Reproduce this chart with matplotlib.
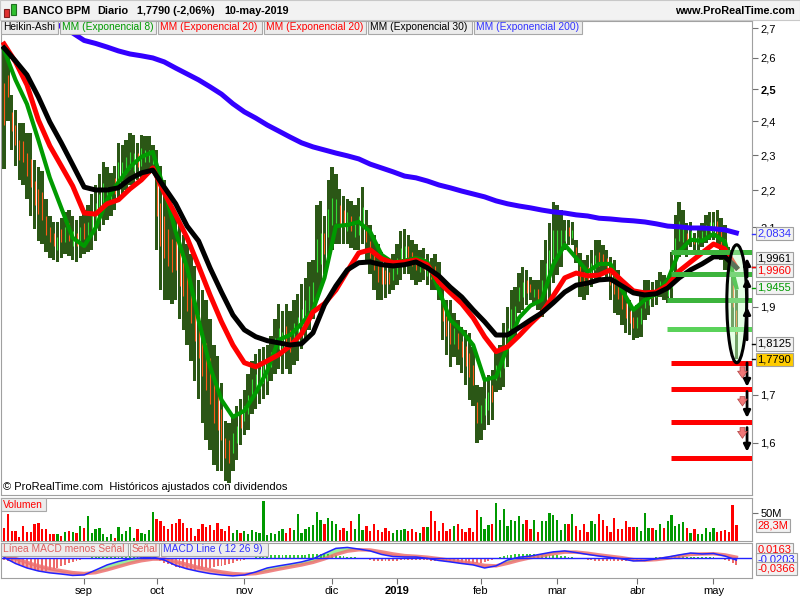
import numpy as np
import matplotlib.pyplot as plt
import matplotlib.transforms as mtrans
from matplotlib.patches import Ellipse, Rectangle
from matplotlib.ticker import NullLocator

plt.rcParams['font.family'] = ['Liberation Sans', 'DejaVu Sans']

# Heikin-Ashi candles, one per trading day (Aug 2018 - 10 May 2019)
ha_high = [
    2.64, 2.61, 2.48, 2.435, 2.395, 2.395, 2.365, 2.365, 2.285, 2.265,
    2.255, 2.175, 2.13, 2.115, 2.115, 2.125, 2.14, 2.145, 2.13, 2.12,
    2.13, 2.145, 2.16, 2.19, 2.215, 2.245, 2.28, 2.265, 2.25, 2.27,
    2.335, 2.33, 2.345, 2.365, 2.36, 2.335, 2.36, 2.355, 2.355, 2.33,
    2.315, 2.27, 2.23, 2.175, 2.145, 2.13, 2.105, 2.08, 2.055, 2.03,
    2.00, 1.965, 1.94, 1.915, 1.87, 1.81, 1.785, 1.725, 1.645, 1.64,
    1.655, 1.675, 1.69, 1.71, 1.745, 1.775, 1.79, 1.80, 1.805, 1.81,
    1.83, 1.87, 1.905, 1.89, 1.905, 1.89, 1.915, 1.93, 1.955, 1.97,
    2.01, 2.015, 2.16, 2.17, 2.13, 2.23, 2.265, 2.245, 2.205, 2.185,
    2.175, 2.17, 2.16, 2.18, 2.21, 2.145, 2.105, 2.08, 2.055, 2.035,
    2.02, 2.01, 2.03, 2.055, 2.09, 2.095, 2.08, 2.067, 2.055, 2.04,
    2.045, 2.03, 2.02, 2.03, 2.01, 1.953, 1.915, 1.915, 1.885, 1.868,
    1.852, 1.845, 1.838, 1.806, 1.722, 1.717, 1.732, 1.743, 1.754, 1.80,
    1.81, 1.861, 1.90, 1.94, 1.948, 1.983, 1.998, 1.99, 1.972, 1.965,
    1.965, 2.015, 2.067, 2.111, 2.168, 2.16, 2.146, 2.119, 2.119, 2.114,
    2.067, 2.033, 2.015, 2.028, 2.041, 2.067, 2.067, 2.054, 2.041, 2.023,
    2.015, 1.99, 1.965, 1.94, 1.916, 1.899, 1.904, 1.935, 1.965, 1.965,
    1.96, 1.965, 1.985, 1.978, 1.97, 2.036, 2.133, 2.168, 2.146, 2.111,
    2.114, 2.085, 2.093, 2.111, 2.133, 2.141, 2.141, 2.146, 2.125, 2.106,
    2.049, 2.003, 1.94,
]
ha_low = [
    2.26, 2.40, 2.315, 2.27, 2.23, 2.215, 2.175, 2.13, 2.095, 2.065,
    2.055, 2.035, 2.02, 2.015, 2.01, 2.02, 2.03, 2.025, 2.015, 2.01,
    2.02, 2.03, 2.035, 2.04, 2.065, 2.09, 2.105, 2.12, 2.13, 2.145,
    2.175, 2.19, 2.20, 2.215, 2.215, 2.23, 2.235, 2.245, 2.245, 2.25,
    2.04, 1.94, 1.915, 1.915, 1.905, 1.915, 1.87, 1.845, 1.81, 1.775,
    1.73, 1.69, 1.64, 1.605, 1.585, 1.555, 1.545, 1.545, 1.525, 1.52,
    1.545, 1.565, 1.595, 1.615, 1.625, 1.66, 1.67, 1.68, 1.69, 1.70,
    1.73, 1.745, 1.755, 1.745, 1.755, 1.745, 1.765, 1.775, 1.80, 1.82,
    1.845, 1.87, 1.915, 1.94, 1.98, 2.015, 2.04, 2.055, 2.055, 2.055,
    2.055, 2.045, 2.04, 2.04, 2.055, 2.015, 1.98, 1.94, 1.915, 1.915,
    1.92, 1.93, 1.94, 1.953, 1.965, 1.98, 1.98, 1.965, 1.953, 1.96,
    1.965, 1.953, 1.94, 1.94, 1.915, 1.822, 1.788, 1.761, 1.783, 1.765,
    1.748, 1.722, 1.689, 1.675, 1.60, 1.606, 1.627, 1.637, 1.647, 1.705,
    1.711, 1.717, 1.76, 1.81, 1.822, 1.885, 1.892, 1.904, 1.916, 1.904,
    1.892, 1.875, 1.904, 1.916, 1.958, 1.978, 1.998, 2.041, 2.054, 2.054,
    2.008, 1.923, 1.916, 1.928, 1.947, 1.958, 1.965, 1.978, 1.973, 1.916,
    1.885, 1.88, 1.856, 1.838, 1.833, 1.822, 1.826, 1.829, 1.868, 1.88,
    1.899, 1.904, 1.923, 1.916, 1.909, 1.909, 1.965, 2.023, 2.028, 2.023,
    2.049, 2.041, 2.041, 2.049, 2.059, 2.067, 2.067, 2.049, 2.015, 1.99,
    1.983, 1.845, 1.779,
]
ha_open = [
    2.52, 2.545, 2.43, 2.39, 2.345, 2.34, 2.305, 2.29, 2.225, 2.205,
    2.195, 2.13, 2.10, 2.085, 2.04, 2.095, 2.06, 2.11, 2.05, 2.085,
    2.055, 2.11, 2.07, 2.08, 2.11, 2.13, 2.155, 2.165, 2.17, 2.235,
    2.22, 2.23, 2.245, 2.26, 2.255, 2.305, 2.27, 2.28, 2.28, 2.275,
    2.23, 2.165, 2.13, 2.095, 2.07, 2.065, 2.035, 2.01, 1.98, 1.95,
    1.915, 1.88, 1.845, 1.815, 1.78, 1.73, 1.71, 1.67, 1.61, 1.605,
    1.58, 1.60, 1.66, 1.645, 1.66, 1.695, 1.705, 1.715, 1.725, 1.73,
    1.76, 1.78, 1.80, 1.79, 1.855, 1.845, 1.81, 1.82, 1.845, 1.865,
    1.89, 1.91, 1.985, 2.005, 2.085, 2.075, 2.105, 2.11, 2.16, 2.145,
    2.09, 2.13, 2.075, 2.08, 2.10, 2.105, 2.065, 2.035, 2.01, 2.00,
    1.99, 1.985, 1.965, 1.98, 2.00, 2.01, 2.05, 2.035, 2.02, 1.985,
    2.02, 1.975, 1.995, 2.00, 1.98, 1.91, 1.877, 1.868, 1.813, 1.838,
    1.82, 1.808, 1.792, 1.765, 1.685, 1.64, 1.657, 1.668, 1.72, 1.732,
    1.738, 1.758, 1.80, 1.85, 1.859, 1.914, 1.923, 1.965, 1.955, 1.923,
    1.943, 1.916, 1.95, 1.972, 2.018, 2.03, 2.041, 2.064, 2.10, 2.072,
    2.049, 2.00, 1.985, 1.998, 1.975, 1.99, 2.036, 2.03, 2.02, 1.99,
    1.975, 1.955, 1.93, 1.909, 1.89, 1.875, 1.85, 1.859, 1.897, 1.904,
    1.94, 1.923, 1.94, 1.958, 1.926, 1.945, 2.015, 2.064, 2.062, 2.085,
    2.067, 2.072, 2.057, 2.067, 2.08, 2.088, 2.088, 2.116, 2.09, 2.07,
    2.028, 1.953, 1.892,
]
ha_close = [
    2.39, 2.475, 2.37, 2.33, 2.285, 2.28, 2.24, 2.21, 2.16, 2.135,
    2.12, 2.08, 2.06, 2.05, 2.075, 2.06, 2.10, 2.065, 2.09, 2.05,
    2.10, 2.07, 2.115, 2.135, 2.165, 2.19, 2.22, 2.21, 2.21, 2.19,
    2.28, 2.28, 2.295, 2.31, 2.305, 2.265, 2.32, 2.315, 2.315, 2.30,
    2.13, 2.05, 2.02, 2.00, 1.985, 1.99, 1.95, 1.925, 1.89, 1.86,
    1.82, 1.78, 1.74, 1.71, 1.68, 1.64, 1.625, 1.605, 1.57, 1.56,
    1.62, 1.635, 1.63, 1.675, 1.70, 1.735, 1.745, 1.755, 1.765, 1.77,
    1.795, 1.825, 1.85, 1.84, 1.805, 1.795, 1.86, 1.875, 1.895, 1.915,
    1.95, 1.96, 2.07, 2.085, 2.03, 2.15, 2.18, 2.175, 2.105, 2.10,
    2.14, 2.09, 2.115, 2.13, 2.155, 2.06, 2.02, 1.99, 1.96, 1.955,
    1.955, 1.955, 1.995, 2.02, 2.045, 2.05, 2.015, 2.00, 1.99, 2.015,
    1.99, 2.00, 1.967, 1.97, 1.947, 1.865, 1.831, 1.813, 1.85, 1.80,
    1.783, 1.763, 1.738, 1.72, 1.64, 1.678, 1.693, 1.705, 1.685, 1.765,
    1.774, 1.81, 1.85, 1.895, 1.902, 1.947, 1.96, 1.933, 1.935, 1.943,
    1.916, 1.965, 2.008, 2.041, 2.093, 2.093, 2.093, 2.093, 2.077, 2.093,
    2.028, 1.96, 1.95, 1.963, 2.008, 2.028, 2.00, 2.003, 1.995, 1.953,
    1.93, 1.918, 1.894, 1.873, 1.861, 1.85, 1.875, 1.897, 1.93, 1.935,
    1.92, 1.943, 1.963, 1.938, 1.947, 1.99, 2.072, 2.117, 2.103, 2.054,
    2.09, 2.057, 2.075, 2.09, 2.106, 2.114, 2.114, 2.083, 2.054, 2.03,
    2.005, 1.899, 1.836,
]

# Exponential moving averages, read every third session
ema_bars = list(range(0, 193, 3))
ema8 = [
    2.626, 2.529, 2.453, 2.344, 2.235, 2.152, 2.072, 2.051, 2.098, 2.174,
    2.223, 2.266, 2.295, 2.309, 2.201, 2.088, 1.995, 1.868, 1.761, 1.689,
    1.653, 1.666, 1.704, 1.752, 1.822, 1.833, 1.859, 1.892, 1.970, 2.103,
    2.106, 2.114, 2.088, 2.028, 2.008, 2.013, 2.020, 2.010, 1.940, 1.868,
    1.843, 1.810, 1.732, 1.739, 1.806, 1.873, 1.902, 1.916, 2.003, 2.054,
    2.020, 1.985, 2.005, 2.005, 1.940, 1.892, 1.916, 1.931, 1.965, 2.036,
    2.067, 2.064, 2.082, 2.062, 1.946,
]
ema20 = [
    2.646, 2.587, 2.513, 2.404, 2.327, 2.269, 2.212, 2.138, 2.135, 2.163,
    2.174, 2.204, 2.229, 2.263, 2.193, 2.133, 2.072, 2.000, 1.928, 1.864,
    1.810, 1.770, 1.761, 1.774, 1.788, 1.808, 1.836, 1.887, 1.907, 1.940,
    1.987, 2.033, 2.041, 2.018, 2.008, 2.010, 2.015, 2.003, 1.960, 1.933,
    1.907, 1.873, 1.829, 1.795, 1.806, 1.831, 1.859, 1.885, 1.926, 1.970,
    1.982, 1.975, 1.977, 1.990, 1.963, 1.938, 1.933, 1.935, 1.952, 1.987,
    2.010, 2.033, 2.056, 2.043, 1.996,
]
ema30 = [
    2.633, 2.590, 2.545, 2.475, 2.398, 2.336, 2.272, 2.209, 2.201, 2.201,
    2.207, 2.232, 2.249, 2.257, 2.209, 2.163, 2.103, 2.064, 1.995, 1.935,
    1.880, 1.845, 1.829, 1.820, 1.815, 1.810, 1.813, 1.838, 1.904, 1.950,
    1.990, 2.008, 2.010, 2.003, 2.000, 2.003, 2.010, 1.995, 1.975, 1.947,
    1.923, 1.892, 1.864, 1.833, 1.833, 1.850, 1.868, 1.885, 1.909, 1.935,
    1.952, 1.957, 1.965, 1.967, 1.950, 1.933, 1.928, 1.931, 1.945, 1.970,
    1.990, 2.005, 2.023, 2.023, 1.996,
]
ema200 = [
    2.80, 2.78, 2.76, 2.74, 2.72, 2.705, 2.683, 2.658, 2.648, 2.636,
    2.623, 2.613, 2.607, 2.600, 2.587, 2.567, 2.548, 2.529, 2.507, 2.484,
    2.454, 2.429, 2.410, 2.389, 2.371, 2.353, 2.336, 2.324, 2.315, 2.306,
    2.298, 2.289, 2.274, 2.263, 2.252, 2.240, 2.235, 2.226, 2.215, 2.207,
    2.198, 2.190, 2.182, 2.171, 2.163, 2.157, 2.152, 2.146, 2.141, 2.138,
    2.133, 2.130, 2.124, 2.122, 2.119, 2.117, 2.114, 2.109, 2.103, 2.101,
    2.098, 2.098, 2.096, 2.093, 2.085,
]

# volume in millions
volume = [
    24, 48, 18, 18, 8, 27, 16, 16, 30, 33,
    22, 21, 12, 12, 12, 9, 16, 18, 16, 15,
    27, 24, 45, 15, 22, 24, 12, 8, 12, 5,
    25, 12, 18, 25, 6, 22, 15, 12, 20, 52,
    39, 36, 27, 21, 30, 33, 40, 33, 24, 24,
    9, 21, 30, 25, 28, 20, 32, 22, 18, 26,
    15, 20, 14, 18, 12, 20, 16, 14, 72, 10,
    14, 12, 18, 22, 14, 24, 20, 48, 15, 22,
    25, 28, 52, 38, 30, 42, 35, 30, 20, 24,
    18, 36, 22, 48, 20, 26, 18, 30, 20, 16,
    24, 18, 14, 20, 20, 21, 18, 21, 17, 15,
    25, 25, 54, 35, 18, 33, 18, 21, 27, 31,
    21, 17, 24, 16, 55, 43, 21, 29, 30, 68,
    37, 57, 27, 37, 35, 45, 30, 37, 21, 37,
    17, 36, 36, 51, 46, 37, 19, 30, 31, 48,
    27, 19, 30, 17, 36, 30, 48, 37, 27, 17,
    42, 21, 21, 35, 25, 25, 25, 18, 51, 23,
    23, 19, 31, 24, 35, 46, 27, 31, 34, 24,
    15, 22, 13, 13, 24, 16, 24, 17, 18, 19,
    17, 65, 28.3,
]

# MACD (12 26 9)
macd_line = [
    0.003, -0.023, -0.042, -0.055, -0.063, -0.068, -0.074, -0.072, -0.051, -0.029,
    -0.014, -0.003, 0.001, 0.005, -0.008, -0.031, -0.046, -0.057, -0.066, -0.072,
    -0.076, -0.072, -0.059, -0.042, -0.033, -0.025, -0.016, -0.003, 0.020, 0.042,
    0.046, 0.039, 0.031, 0.016, 0.007, 0.005, 0.005, -0.001, -0.010, -0.016,
    -0.023, -0.029, -0.042, -0.033, -0.008, 0.004, 0.009, 0.018, 0.027, 0.031,
    0.024, 0.016, 0.009, 0.003, -0.003, -0.012, -0.010, -0.003, 0.005, 0.014,
    0.022, 0.018, 0.020, 0.009, -0.008,
]
macd_signal = [
    0.012, -0.002, -0.018, -0.033, -0.045, -0.054, -0.062, -0.066, -0.062, -0.050,
    -0.036, -0.022, -0.011, -0.004, -0.004, -0.014, -0.027, -0.040, -0.050, -0.059,
    -0.066, -0.069, -0.066, -0.057, -0.047, -0.038, -0.029, -0.018, -0.003, 0.016,
    0.030, 0.036, 0.035, 0.027, 0.018, 0.011, 0.008, 0.004, -0.002, -0.009,
    -0.016, -0.022, -0.031, -0.033, -0.022, -0.009, 0.002, 0.010, 0.019, 0.026,
    0.026, 0.021, 0.014, 0.008, 0.002, -0.006, -0.009, -0.006, 0.000, 0.008,
    0.016, 0.018, 0.019, 0.014, 0.004,
]
macd_hist = [
    -0.008, -0.013, -0.018, -0.024, -0.030, -0.036, -0.042, -0.047, -0.052, -0.055,
    -0.056, -0.054, -0.050, -0.045, -0.040, -0.034, -0.028, -0.022, -0.017, -0.012,
    -0.007, -0.003, 0.002, 0.005, 0.008, 0.010, 0.012, 0.013, 0.013, 0.012,
    0.012, 0.011, 0.010, 0.009, 0.008, 0.007, 0.006, 0.006, 0.005, 0.004,
    -0.006, -0.014, -0.020, -0.026, -0.031, -0.036, -0.040, -0.043, -0.046, -0.048,
    -0.049, -0.048, -0.046, -0.044, -0.041, -0.038, -0.035, -0.032, -0.028, -0.024,
    -0.019, -0.014, -0.010, -0.006, -0.002, 0.002, 0.006, 0.009, 0.011, 0.013,
    0.014, 0.015, 0.015, 0.015, 0.014, 0.014, 0.013, 0.013, 0.014, 0.015,
    0.016, 0.017, 0.018, 0.018, 0.017, 0.016, 0.015, 0.013, 0.011, 0.009,
    0.007, 0.005, 0.003, 0.001, -0.001, -0.004, -0.007, -0.010, -0.012, -0.013,
    -0.013, -0.012, -0.011, -0.010, -0.008, -0.007, -0.006, -0.006, -0.006, -0.007,
    -0.008, -0.009, -0.010, -0.011, -0.012, -0.014, -0.016, -0.017, -0.018, -0.019,
    -0.020, -0.021, -0.022, -0.023, -0.022, -0.019, -0.015, -0.011, -0.007, -0.002,
    0.003, 0.008, 0.012, 0.015, 0.017, 0.018, 0.019, 0.019, 0.018, 0.017,
    0.016, 0.015, 0.015, 0.014, 0.013, 0.012, 0.010, 0.008, 0.006, 0.004,
    0.001, -0.002, -0.005, -0.007, -0.009, -0.010, -0.011, -0.011, -0.012, -0.012,
    -0.013, -0.013, -0.014, -0.014, -0.013, -0.012, -0.010, -0.008, -0.005, -0.002,
    0.001, 0.003, 0.005, 0.006, 0.007, 0.008, 0.008, 0.008, 0.008, 0.007,
    0.007, 0.006, 0.006, 0.005, 0.005, 0.004, 0.003, 0.001, -0.003, -0.007,
    -0.012, -0.020, -0.028,
]

# month ticks (session index of first trading day)
month_pos = [21, 40, 63, 86, 103, 125, 145, 166, 186]
month_lbl = ['sep', 'oct', 'nov', 'dic', '2019', 'feb', 'mar', 'abr', 'may']
price_ticks = [1.6, 1.7, 1.9, 2.1, 2.2, 2.3, 2.4, 2.5, 2.6, 2.7]

# hand-drawn levels and arrows
green_levels = [2.036, 1.980, 1.916, 1.847]
green_start = [174.9, 174.9, 173.8, 173.8]
red_levels = [1.770, 1.713, 1.643, 1.570]
red_start = 174.9
up_arrows = [(1.972, 2.020), (1.916, 1.970), (1.822, 1.899)]
down_arrows = [(1.770, 1.717), (1.707, 1.651), (1.631, 1.582)]
pink_arrows = [(1.761, 1.736), (1.696, 1.676), (1.631, 1.609)]

W, H = 800, 600


def fig_box(x0, y0, x1, y1):
    return [x0 / W, 1 - y1 / H, (x1 - x0) / W, (y1 - y0) / H]


fig = plt.figure(figsize=(8, 6), dpi=100)
ax = fig.add_axes(fig_box(1, 21, 752, 495))
axv = fig.add_axes(fig_box(1, 498, 752, 541))
axm = fig.add_axes(fig_box(1, 543, 752, 578))

# ---- price panel ----
hi = np.array(ha_high)
lo = np.array(ha_low)
op = np.array(ha_open)
cl = np.array(ha_close)
x = np.arange(len(cl))
up = cl >= op

ax.bar(x, hi - lo, bottom=lo, width=0.9, color='#2b5716', linewidth=0, zorder=2)
ax.vlines(x[up], op[up], cl[up], color='#33dd33', lw=0.8, zorder=3)
ax.vlines(x[~up], op[~up], cl[~up], color='#ff5a1a', lw=0.8, zorder=3)

ax.plot(ema_bars, ema8, color='#009a00', lw=3.0, zorder=4)
ax.plot(ema_bars, ema20, color='#ff0000', lw=3.6, zorder=5)
ax.plot(ema_bars, ema30, color='black', lw=3.6, zorder=6)
ax.plot(ema_bars, ema200, color='#3300ff', lw=3.6, zorder=7)

ax.set_yscale('log')
ax.set_xlim(-0.8, 196.1)
ax.set_ylim(1.498, 2.724)
ax.yaxis.set_minor_locator(NullLocator())
ax.yaxis.tick_right()
ax.set_yticks(price_ticks, labels=[f'{p:.1f}'.replace('.', ',') for p in price_ticks])
for t in ax.get_yticklabels():
    if t.get_text() == '2,5':
        t.set_fontweight('bold')
ax.tick_params(axis='y', which='major', direction='out', length=4, color='#707070', labelsize=8, pad=2)
ax.tick_params(axis='x', bottom=False, labelbottom=False)

# levels drawn on the chart
for lvl, st, col in zip(green_levels, green_start, ['#3cb43c', '#3cb43c', '#3cb43c', '#5ad25a']):
    ax.hlines(lvl, st, 196.1, color=col, lw=3.6, zorder=8)
ax.hlines(red_levels, red_start, 196.1, color='#ff0000', lw=3.6, zorder=8)
ax.add_patch(Ellipse((192.1, 1.912), width=5.2, height=0.284, fc=(0.78, 1, 0.78, 0.45),
                     ec='black', lw=2.2, zorder=9))
for a, b in up_arrows + down_arrows:
    ax.annotate('', xy=(194.8, b), xytext=(194.8, a), zorder=10, annotation_clip=False,
                arrowprops=dict(arrowstyle='-|>', color='black', lw=2, mutation_scale=10,
                                shrinkA=0, shrinkB=0))
for a, b in pink_arrows:
    ax.annotate('', xy=(193.6, b), xytext=(193.6, a), zorder=10,
                arrowprops=dict(arrowstyle='simple,head_width=0.7,tail_width=0.35',
                                fc='#f07878', ec='#b04040', lw=0.5, shrinkA=0, shrinkB=0))

# value tags on the price axis
blend = mtrans.blended_transform_factory(ax.transAxes, ax.transData)
price_tags = [('2,0834', 2.0834, '#3333ff', '#f2f2f2', 0),
              ('1,9961', 1.9961, 'black', '#f2f2f2', -9),
              ('1,9960', 1.9960, '#ff0000', '#f2f2f2', 3),
              ('1,9455', 1.9455, '#009900', '#f2f2f2', 0),
              ('1,8125', 1.8125, 'black', '#f2f2f2', 0),
              ('1,7790', 1.7790, 'black', '#ffcc00', 1)]
for txt, val, col, bg, off in price_tags:
    ax.plot([1.0, 1.006], [val, val], transform=blend, color=col, lw=1, clip_on=False, zorder=11)
    ax.annotate(txt, xy=(1.0, val), xycoords=blend, xytext=(4, -off * 0.72), textcoords='offset points',
                color=col, fontsize=8, va='center', ha='left', zorder=12, annotation_clip=False,
                bbox=dict(boxstyle='square,pad=0.15', fc=bg, ec='#a0a0a0', lw=0.8))

# ---- volume panel ----
vol = np.array(volume) * 1e6
vx = np.arange(len(vol))
vcol = np.where(up[:len(vol)], '#009900', '#ff0000')
axv.bar(vx, vol, width=0.6, color=vcol, linewidth=0)
axv.set_xlim(-0.8, 196.1)
axv.set_ylim(0, 77e6)
axv.yaxis.tick_right()
axv.set_yticks([50e6], labels=['50M'])
axv.tick_params(axis='y', direction='out', length=4, color='#707070', labelsize=8, pad=2)
axv.tick_params(axis='x', bottom=False, labelbottom=False)
vblend = mtrans.blended_transform_factory(axv.transAxes, axv.transData)
axv.annotate('28,3M', xy=(1.0, 28.3e6), xycoords=vblend, xytext=(4, 0), textcoords='offset points',
             color='#ff0000', fontsize=8, va='center', ha='left', annotation_clip=False,
             bbox=dict(boxstyle='square,pad=0.15', fc='#f2f2f2', ec='#a0a0a0', lw=0.8))

# ---- MACD panel ----
mx = np.array(ema_bars)
ml = np.array(macd_line)
ms = np.array(macd_signal)
mh = np.array(macd_hist)
axm.fill_between(mx, ml, ms, where=ml < ms, interpolate=True, color='#f08080', alpha=0.75, lw=0)
axm.fill_between(mx, ml, ms, where=ml >= ms, interpolate=True, color='#90ee90', alpha=0.9, lw=0)
hx = np.arange(len(mh))
axm.bar(hx, mh, width=0.5, color=np.where(mh < 0, '#ee6a6a', '#33cc33'), linewidth=0)
axm.plot(mx, ms, color='#ee7070', lw=2.5, alpha=0.85)
axm.plot(mx, ml, color='#2222ff', lw=1.1)
axm.axhline(0, color='#2222ff', lw=1.0)
axm.set_xlim(-0.8, 196.1)
axm.set_ylim(-0.085, 0.065)
axm.set_yticks([])
axm.set_xticks(month_pos, labels=month_lbl)
for t in axm.get_xticklabels():
    if t.get_text() == '2019':
        t.set_fontweight('bold')
axm.tick_params(axis='x', direction='out', length=4, color='#707070', labelsize=8, pad=2)
mblend = mtrans.blended_transform_factory(axm.transAxes, axm.transData)
for txt, val, col, off in [('0,0163', 0.0163, '#ff0000', -5), ('-0,0203', -0.0203, '#2222ff', -3),
                           ('-0,0366', -0.0366, '#ff0000', 2)]:
    axm.annotate(txt, xy=(1.0, val), xycoords=mblend, xytext=(4, -off * 0.72), textcoords='offset points',
                 color=col, fontsize=8, va='center', ha='left', annotation_clip=False,
                 bbox=dict(boxstyle='square,pad=0.15', fc='#f2f2f2', ec='#a0a0a0', lw=0.8))

for a in (ax, axv, axm):
    for s in a.spines.values():
        s.set_color('#a0a0a0')
        s.set_linewidth(0.8)


# ---- header, legends, footer ----
def px_rect(x0, y0, x1, y1, fc, ec='#a8a8a8', z=20):
    fig.add_artist(Rectangle((x0 / W, 1 - y1 / H), (x1 - x0) / W, (y1 - y0) / H,
                             transform=fig.transFigure, fc=fc, ec=ec, lw=0.8, zorder=z))


def px_label(x0, y0, x1, y1, text, color):
    px_rect(x0, y0, x1, y1, '#ececec')
    fig.text((x0 + 2) / W, 1 - (y0 + y1) / 2 / H, text, color=color, fontsize=7.4,
             va='center', ha='left', zorder=21)


px_rect(0, 0, 800, 20, '#f2f2f2', ec='#c8c8c8', z=19)
px_rect(4, 9, 9, 17, '#e03030', ec='#802020', z=21)
px_rect(11, 4, 16, 15, '#30c030', ec='#207020', z=21)
for xt, txt in [(23, 'BANCO BPM'), (97, 'Diario'), (137, '1,7790 (-2,06%)'), (224, '10-may-2019')]:
    fig.text(xt / W, 1 - 11 / H, txt, fontsize=7.8, fontweight='bold', va='center', ha='left', zorder=22)
fig.text(795 / W, 1 - 11 / H, 'www.ProRealTime.com', fontsize=7.8, fontweight='bold',
         va='center', ha='right', zorder=22)

px_label(1, 21, 58, 34, 'Heikin-Ashi', 'black')
px_label(60, 21, 156, 34, 'MM (Exponencial 8)', '#009a00')
px_label(158, 21, 262, 34, 'MM (Exponencial 20)', '#ff0000')
px_label(264, 21, 366, 34, 'MM (Exponencial 20)', '#ff0000')
px_label(368, 21, 472, 34, 'MM (Exponencial 30)', 'black')
px_label(474, 21, 582, 34, 'MM (Exponencial 200)', '#3333ff')
px_label(1, 498, 46, 511, 'Volumen', '#ff0000')
px_label(1, 543, 128, 556, 'Línea MACD menos Señal', '#e06060')
px_label(130, 543, 159, 556, 'Señal', '#e06060')
px_label(161, 543, 268, 556, 'MACD Line ( 12 26 9)', '#3333ff')

fig.text(3 / W, 1 - 487 / H, '© ProRealTime.com  Históricos ajustados con dividendos',
         fontsize=8, va='center', ha='left', zorder=21)

fig.savefig('out.png', dpi=100)
